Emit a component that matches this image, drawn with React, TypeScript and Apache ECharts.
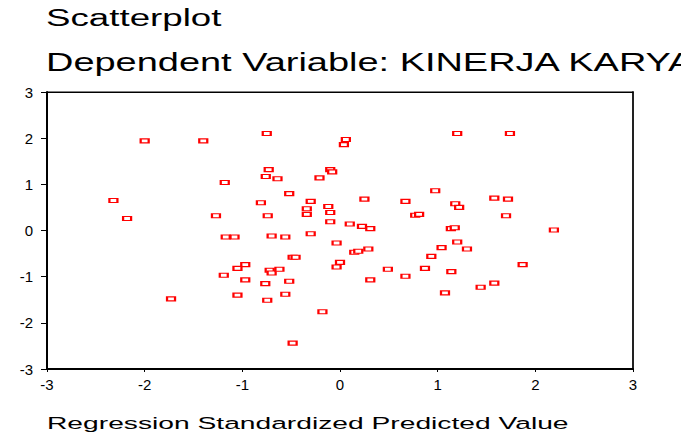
import React, { useEffect, useRef } from "react";
import * as echarts from "echarts";

const predicted: number[] = [
  -2.0, -1.4, -0.75, -2.32, -2.18, -1.18, -1.27, -0.73, -0.76, -0.64,
  -0.52, -0.81, -0.74, -0.21, -0.1, -0.08, 0.04, 0.06, -0.3, -0.34,
  -0.34, -0.12, -0.1, -0.1, 0.1, -0.3, 1.2, 1.74, 0.975, 0.25,
  0.67, 1.18, 1.22, 1.58, 1.72, 0.77, 0.81, 1.7, 0.225, 0.31,
  1.135, 1.175, 2.19, -1.17, -1.08, -0.7, -0.56, -0.035, -0.485, -0.455,
  -0.97, -1.05, -0.72, -0.7, -0.62, 0.0, -0.035, -1.19, -0.97, -0.765,
  -0.52, -1.05, -0.56, -0.745, -1.73, -0.18, -0.485, 0.146, 0.187, 0.29,
  1.04, 1.2, 1.3, 0.935, 0.49, 0.87, 1.14, 0.67, 1.87, 0.31,
  1.44, 1.58, 1.075,
];

const residual: number[] = [
  1.94, 1.94, 2.1, 0.65, 0.26, 1.04, 0.32, 1.32, 1.17, 1.12,
  0.8, 0.6, 0.32, 1.14, 1.32, 1.27, 1.86, 1.97, 0.63, 0.47,
  0.35, 0.52, 0.39, 0.19, 0.14, -0.07, 2.1, 2.1, 0.86, 0.68,
  0.63, 0.58, 0.5, 0.7, 0.68, 0.33, 0.35, 0.32, 0.09, 0.04,
  0.04, 0.06, 0.01, -0.14, -0.14, -0.12, -0.14, -0.27, -0.58, -0.58,
  -0.74, -0.82, -0.86, -0.92, -0.84, -0.69, -0.79, -0.97, -1.07, -1.15,
  -1.1, -1.4, -1.38, -1.51, -1.48, -1.76, -2.44, -0.47, -0.45, -0.4,
  -0.37, -0.25, -0.4, -0.56, -0.84, -0.82, -0.89, -0.99, -0.74, -1.07,
  -1.23, -1.14, -1.35,
];

const titleText = "Scatterplot";
const subtitleText = "Dependent Variable: KINERJA KARYAWAN";
const xAxisTitle = "Regression Standardized Predicted Value";
const axisMin = -3;
const axisMax = 3;
const axisStep = 1;

export default function App() {
  const ref = useRef<HTMLDivElement>(null);
  useEffect(() => {
    if (!ref.current) return;
    const chart = echarts.init(ref.current, null, { renderer: "svg" });
    const font = "Liberation Sans, Arial, sans-serif";
    const data = predicted.map((x, i) => [x, residual[i]]);
    chart.setOption({
      animation: false,
      backgroundColor: "#ffffff",
      grid: {
        left: 47,
        top: 92,
        width: 586,
        height: 277,
        show: true,
        borderColor: "#000",
        borderWidth: 1,
        backgroundColor: "#fff",
      },
      graphic: [
        {
          type: "text",
          x: 46,
          y: 18,
          scaleX: 1.53,
          style: {
            text: titleText,
            font: `24px ${font}`,
            fill: "#000",
            verticalAlign: "middle",
            align: "left",
          },
        },
        {
          type: "text",
          x: 46,
          y: 62,
          scaleX: 1.46,
          style: {
            text: subtitleText,
            font: `26px ${font}`,
            fill: "#000",
            verticalAlign: "middle",
            align: "left",
          },
        },
        {
          type: "text",
          x: 47,
          y: 423,
          scaleX: 1.66,
          style: {
            text: xAxisTitle,
            font: `17px ${font}`,
            fill: "#000",
            verticalAlign: "middle",
            align: "left",
          },
        },
      ],
      xAxis: [
        {
          type: "value",
          min: axisMin,
          max: axisMax,
          interval: axisStep,
          splitLine: { show: false },
          axisLine: { show: true, onZero: false, lineStyle: { color: "#000", width: 2 } },
          axisTick: { show: true, inside: false, length: 3, lineStyle: { color: "#000", width: 1 } },
          axisLabel: {
            margin: 8,
            color: "#000",
            fontFamily: font,
            fontSize: 15,
          },
        },
        {
          type: "value",
          position: "top",
          min: axisMin,
          max: axisMax,
          splitLine: { show: false },
          axisLine: { show: true, onZero: false, lineStyle: { color: "#000", width: 1 } },
          axisTick: { show: false },
          axisLabel: { show: false },
        },
      ],
      yAxis: [
        {
          type: "value",
          min: axisMin,
          max: axisMax,
          interval: axisStep,
          splitLine: { show: false },
          axisLine: { show: true, onZero: false, lineStyle: { color: "#000", width: 2 } },
          axisTick: { show: true, inside: false, length: 6, lineStyle: { color: "#000", width: 1 } },
          axisLabel: {
            margin: 14,
            color: "#000",
            fontFamily: font,
            fontSize: 15,
          },
        },
        {
          type: "value",
          position: "right",
          min: axisMin,
          max: axisMax,
          splitLine: { show: false },
          axisLine: { show: true, onZero: false, lineStyle: { color: "#222", width: 2 } },
          axisTick: { show: false },
          axisLabel: { show: false },
        },
      ],
      series: [
        {
          type: "scatter",
          xAxisIndex: 0,
          yAxisIndex: 0,
          data,
          symbol: "rect",
          symbolSize: [8, 4],
          itemStyle: {
            color: "#ffffff",
            borderColor: "#ff0000",
            borderWidth: 1.6,
            opacity: 1,
          },
          emphasis: { disabled: true },
        },
      ],
    });
    return () => chart.dispose();
  }, []);
  return (
    <div
      ref={ref}
      style={{ position: "fixed", left: 0, top: 0, width: 681, height: 441 }}
    />
  );
}
